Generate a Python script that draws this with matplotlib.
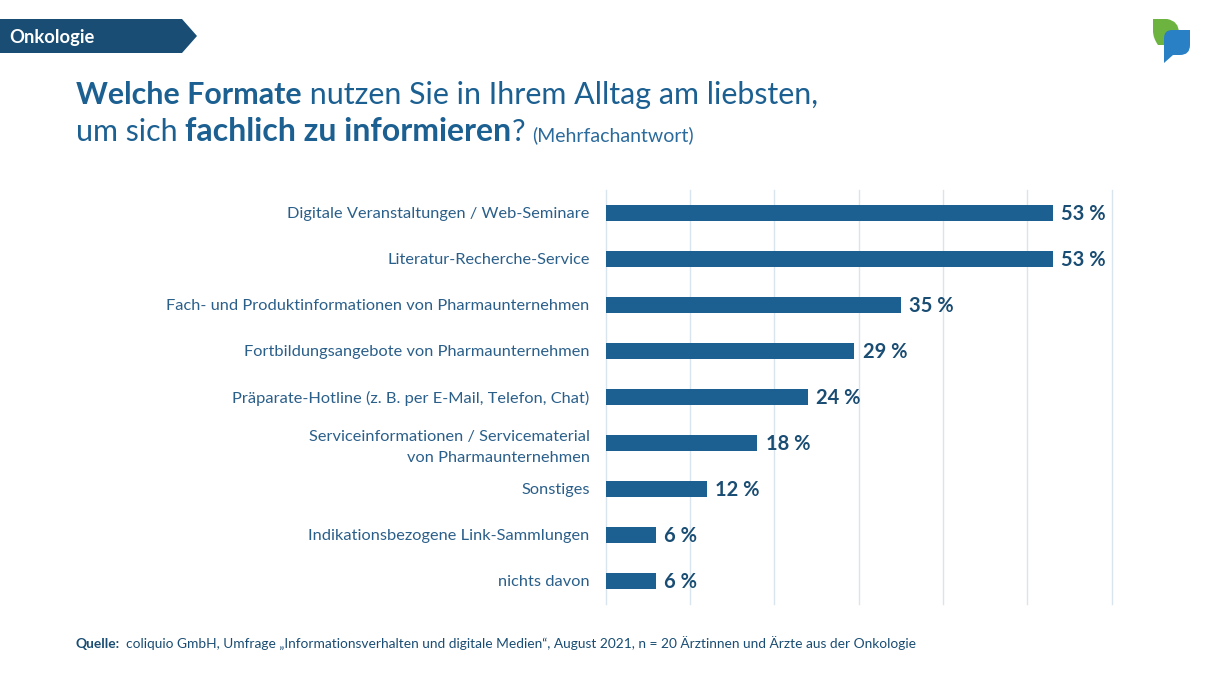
import numpy as np
from matplotlib import pyplot as plt
from matplotlib.patches import Polygon, PathPatch
from matplotlib.path import Path

plt.rcParams['font.family'] = ['Lato', 'DejaVu Sans']

categories = ['Digitale Veranstaltungen / Web-Seminare',
              'Literatur-Recherche-Service',
              'Fach- und Produktinformationen von Pharmaunternehmen',
              'Fortbildungsangebote von Pharmaunternehmen',
              'Präparate-Hotline (z. B. per E-Mail, Telefon, Chat)',
              'Serviceinformationen / Servicematerial\nvon Pharmaunternehmen',
              'Sonstiges',
              'Indikationsbezogene Link-Sammlungen',
              'nichts davon']
values = [53, 53, 35, 29.5, 24, 18, 12, 6, 6]
labels = ['53 %', '53 %', '35 %', '29 %', '24 %', '18 %', '12 %', '6 %', '6 %']
grid_ticks = [0, 10, 20, 30, 40, 50, 60]

title_line1 = [('Welche Formate', 'bold', 21.9), (' nutzen Sie in Ihrem Alltag am liebsten,', 'normal', 21.9)]
title_line2 = [('um sich ', 'normal', 21.9), ('fachlich zu informieren', 'bold', 23), ('?', 'normal', 21.9)]
title_note = '(Mehrfachantwort)'
source_bold = 'Quelle:'
source_text = 'coliquio GmbH, Umfrage „Informationsverhalten und digitale Medien“, August 2021, n = 20 Ärztinnen und Ärzte aus der Onkologie'

dark = '#1a4d73'
blue = '#1c6092'
W, H = 1210, 680

fig = plt.figure(figsize=(W / 100, H / 100), dpi=100, facecolor='white')

# overlay in pixel coords for banner, logo and title
bg = fig.add_axes([0, 0, 1, 1])
bg.set_xlim(0, W)
bg.set_ylim(H, 0)
bg.axis('off')

# chart
ax = fig.add_axes([605.5 / W, 1 - 603.8 / H, (1111.6 - 605.5) / W, (603.8 - 189.8) / H])
y = np.arange(len(categories))
ax.barh(y, values, height=0.36, color=blue, zorder=3)
ax.set_xlim(0, 60)
ax.set_ylim(len(categories) - 0.5, -0.5)
ax.set_xticks(grid_ticks)
ax.set_yticks(y)
ax.set_yticklabels(categories, fontsize=11.8, color='#2a5f8a', linespacing=1.6)
ax.tick_params(axis='x', length=0, labelbottom=False)
ax.tick_params(axis='y', length=0, pad=11.5)
ax.grid(axis='x', color='#d9e5ee', linewidth=1, zorder=0, clip_on=False)
ax.patch.set_alpha(0)
for s in ax.spines.values():
    s.set_visible(False)
for i, v in enumerate(values):
    ax.annotate(labels[i], (v, i), xytext=(6, -1.2), textcoords='offset points',
                va='center', ha='left', fontsize=14.5, fontweight='bold', color=dark)

# banner
bg.add_patch(Polygon([(0, 19), (182, 19), (197, 36), (182, 53), (0, 53)], closed=True,
                     facecolor='#1a4d73', edgecolor='none'))
bg.text(9.5, 37, 'Onkologie', color='white', fontsize=13.2, fontweight='bold', va='center')

# logo
leaf = Path([(1153, 19), (1167, 19), (1179, 21), (1179, 33), (1179, 40), (1172, 45), (1166, 45),
             (1158, 45), (1153, 38), (1153, 31), (1153, 19)],
            [Path.MOVETO, Path.LINETO, Path.CURVE3, Path.CURVE3, Path.CURVE3, Path.CURVE3, Path.CURVE3,
             Path.CURVE3, Path.CURVE3, Path.CURVE3, Path.LINETO])
bg.add_patch(PathPatch(leaf, facecolor='#6cb33f', edgecolor='none'))
drop = Path([(1190, 30), (1172, 30), (1164, 30), (1164, 38), (1164, 63), (1173, 55), (1180, 55),
             (1190, 55), (1190, 45), (1190, 30)],
            [Path.MOVETO, Path.LINETO, Path.CURVE3, Path.CURVE3, Path.LINETO, Path.LINETO, Path.LINETO,
             Path.CURVE3, Path.CURVE3, Path.LINETO])
bg.add_patch(PathPatch(drop, facecolor='#2a80c4', edgecolor='none'))


def chain(parts, x, y, color):
    # draw text pieces one after the other, measuring each
    renderer = fig.canvas.get_renderer()
    for s, weight, size in parts:
        t = bg.text(x, y, s, fontsize=size, fontweight=weight, color=color, va='baseline', ha='left')
        x = t.get_window_extent(renderer).x1
    return x


chain(title_line1, 76, 104, blue)
end = chain(title_line2, 76, 141, blue)
bg.text(end + 7, 141, title_note, fontsize=14, color='#2a6a9c', va='baseline')

bg.text(76, 648.5, source_bold, fontsize=9.95, fontweight='bold', color=dark, va='baseline')
bg.text(126.5, 648.5, source_text, fontsize=9.95, color=dark, va='baseline')

fig.savefig('out.png', dpi=100)
